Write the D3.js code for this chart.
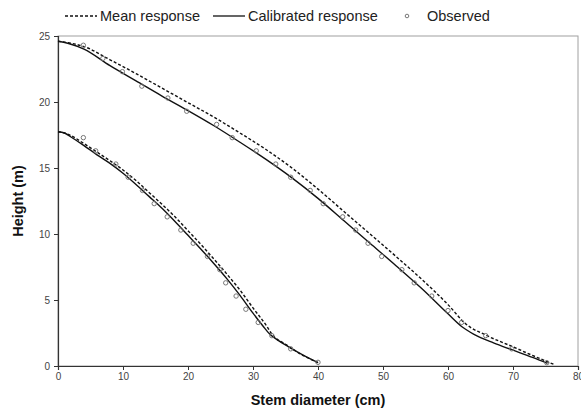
<!DOCTYPE html>
<html><head><meta charset="utf-8">
<script src="https://cdn.jsdelivr.net/npm/d3@7"></script>
<style>body{margin:0;background:#fff;} svg{display:block;}</style>
</head><body>
<svg id="c" width="581" height="415"></svg>
<script>
const xTicks = [0,10,20,30,40,50,60,70,80];
const yTicks = [0,5,10,15,20,25];

// Tree 1 (tall)
const tree1Calibrated = [[0,24.6],[1.5,24.45],[4,24.0],[8,22.75],[12,21.6],[16,20.45],[20,19.35],[24,18.2],[28,16.95],[32,15.65],[36,14.25],[40,12.7],[44,11.0],[48,9.3],[52,7.6],[56,5.85],[60,3.95],[62.2,2.95],[64,2.4],[67,1.75],[70,1.2],[73,0.65],[75.3,0.2]];
const tree1Mean = [[0,24.6],[2,24.45],[4,24.2],[8,23.2],[12,22.15],[16,21.05],[20,19.95],[24,18.85],[28,17.65],[32,16.4],[36,15.0],[40,13.4],[44,11.7],[48,10.0],[52,8.3],[56,6.55],[60,4.65],[62.7,3.2],[66,2.3],[70,1.45],[73,0.8],[76.5,0.08]];
const tree1Observed = [[3.9,24.3],[6.9,23.3],[9.9,22.3],[12.9,21.2],[16.9,20.3],[19.8,19.3],[24.4,18.3],[26.8,17.3],[30.5,16.3],[33.5,15.3],[35.8,14.3],[38.8,13.3],[40.8,12.3],[43.8,11.3],[45.8,10.3],[47.7,9.3],[49.8,8.3],[52.9,7.3],[54.8,6.3],[57.5,5.3],[60.0,4.2],[62.1,3.3],[65.8,2.3],[69.8,1.3],[75.2,0.25]];

// Tree 2 (short)
const tree2Calibrated = [[0,17.75],[1,17.65],[2,17.35],[4,16.7],[6,16.0],[8,15.35],[10,14.6],[12,13.75],[14,12.85],[16,11.95],[18,10.95],[20,9.9],[22,8.85],[24,7.75],[26,6.6],[28,5.35],[30,4.0],[31.5,3.05],[32.6,2.4],[34,1.9],[36,1.3],[38,0.75],[40,0.25]];
const tree2Mean = [[0,17.75],[1,17.65],[2,17.45],[4,16.85],[6,16.2],[8,15.55],[10,14.85],[12,14.05],[14,13.15],[16,12.25],[18,11.3],[20,10.25],[22,9.2],[24,8.1],[26,6.95],[28,5.75],[30,4.4],[32,3.1],[33,2.35],[35,1.65],[37,1.0],[40,0.25]];
const tree2Observed = [[3.9,17.3],[5.8,16.3],[8.9,15.3],[10.8,14.3],[13.0,13.3],[14.8,12.3],[16.8,11.3],[18.9,10.3],[20.8,9.3],[23.0,8.3],[24.9,7.3],[25.8,6.3],[27.4,5.3],[28.9,4.3],[30.8,3.3],[32.9,2.3],[35.8,1.3],[40.0,0.28]];

const svg = d3.select("#c");
const L = 58, R = 578, T = 36, B = 366;
const x = d3.scaleLinear().domain([0,80]).range([L,R]);
const y = d3.scaleLinear().domain([0,25]).range([B,T]);

// frame
svg.append("rect").attr("x",L).attr("y",T).attr("width",R-L).attr("height",B-T)
  .attr("fill","none").attr("stroke","#a0a0a0").attr("stroke-width",1);

const font = "Liberation Sans, Arial, sans-serif";

const xAxis = svg.append("g").attr("transform",`translate(0,${B})`)
  .call(d3.axisBottom(x).tickValues(xTicks).tickSize(4).tickPadding(3).tickFormat(d3.format("d")));
const yAxis = svg.append("g").attr("transform",`translate(${L},0)`)
  .call(d3.axisLeft(y).tickValues(yTicks).tickSize(4).tickPadding(4).tickFormat(d3.format("d")));
[xAxis,yAxis].forEach(a=>{
  a.select(".domain").attr("stroke","#333").attr("stroke-width",1.2);
  a.selectAll(".tick line").attr("stroke","#333");
  a.selectAll(".tick text").attr("fill","#444").style("font-family",font).style("font-size","10px");
});

const line = d3.line().x(d=>x(d[0])).y(d=>y(d[1])).curve(d3.curveMonotoneX);
const plot = svg.append("g");
[tree1Mean,tree2Mean].forEach(s=>{
  plot.append("path").attr("d",line(s)).attr("fill","none").attr("stroke","#111")
    .attr("stroke-width",1.4).attr("stroke-dasharray","3,2");
});
[tree1Calibrated,tree2Calibrated].forEach(s=>{
  plot.append("path").attr("d",line(s)).attr("fill","none").attr("stroke","#111").attr("stroke-width",1.4);
});
[tree1Observed,tree2Observed].forEach(s=>{
  plot.selectAll(null).data(s).enter().append("circle")
    .attr("cx",d=>x(d[0])).attr("cy",d=>y(d[1])).attr("r",2.2)
    .attr("fill","none").attr("stroke","#777").attr("stroke-width",1);
});

// legend
const lg = svg.append("g").style("font-family",font).style("font-size","14.5px").attr("fill","#222");
lg.append("line").attr("x1",65).attr("x2",97).attr("y1",16).attr("y2",16)
  .attr("stroke","#111").attr("stroke-width",1.3).attr("stroke-dasharray","3,2");
lg.append("text").attr("x",100).attr("y",21).text("Mean response");
lg.append("line").attr("x1",213).attr("x2",245).attr("y1",16).attr("y2",16)
  .attr("stroke","#111").attr("stroke-width",1.3);
lg.append("text").attr("x",248).attr("y",21).text("Calibrated response");
lg.append("circle").attr("cx",407).attr("cy",16).attr("r",1.8).attr("fill","none").attr("stroke","#777");
lg.append("text").attr("x",427).attr("y",21).text("Observed");

// axis titles
svg.append("text").attr("x",(L+R)/2).attr("y",405).attr("text-anchor","middle")
  .style("font-family",font).style("font-size","14.5px").style("font-weight","bold").attr("fill","#111")
  .text("Stem diameter (cm)");
svg.append("text").attr("transform",`translate(23,${(T+B)/2}) rotate(-90)`).attr("text-anchor","middle")
  .style("font-family",font).style("font-size","14.5px").style("font-weight","bold").attr("fill","#111")
  .text("Height (m)");
</script>
</body></html>
